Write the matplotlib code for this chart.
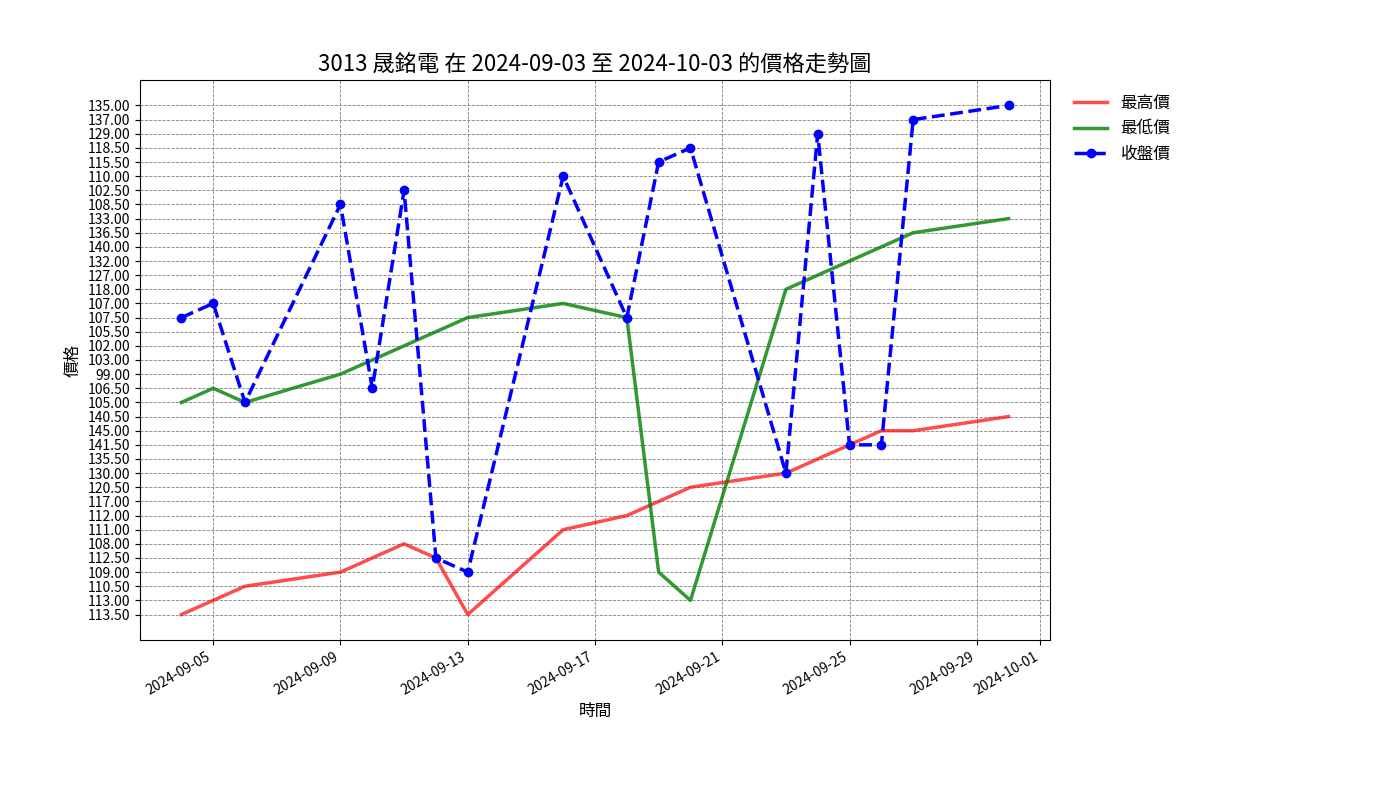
import pandas as pd
import matplotlib
matplotlib.use('Agg')
import matplotlib.pyplot as plt
import matplotlib.dates as mdates

plt.rcParams['font.family'] = ['Noto Sans CJK TC', 'DejaVu Sans']

dates = ['2024-09-04', '2024-09-05', '2024-09-06', '2024-09-09', '2024-09-10', '2024-09-11',
         '2024-09-12', '2024-09-13', '2024-09-16', '2024-09-18', '2024-09-19', '2024-09-20',
         '2024-09-23', '2024-09-24', '2024-09-25', '2024-09-26', '2024-09-27', '2024-09-30']
high = ['113.50', '113.00', '110.50', '109.00', '112.50', '108.00', '112.50', '113.50', '111.00',
        '112.00', '117.00', '120.50', '130.00', '135.50', '141.50', '145.00', '145.00', '140.50']
low = ['105.00', '106.50', '105.00', '99.00', '103.00', '102.00', '105.50', '107.50', '107.00',
       '107.50', '109.00', '113.00', '118.00', '127.00', '132.00', '140.00', '136.50', '133.00']
close = ['107.50', '107.00', '105.00', '108.50', '106.50', '102.50', '112.50', '109.00', '110.00',
         '107.50', '115.50', '118.50', '130.00', '129.00', '141.50', '141.50', '137.00', '135.00']

x = pd.to_datetime(dates)

fig, ax = plt.subplots(figsize=(14, 8), dpi=100)
fig.subplots_adjust(left=0.1, right=0.75, top=0.9, bottom=0.2)
ax.plot(x, high, color='red', alpha=0.7, linewidth=2.5, label='最高價')
ax.plot(x, low, color='green', alpha=0.8, linewidth=2.5, label='最低價')
ax.plot(x, close, color='blue', linestyle='--', marker='o', linewidth=2.5, label='收盤價')

ax.set_title('3013 晟銘電 在 2024-09-03 至 2024-10-03 的價格走勢圖', fontsize=16)
ax.set_xlabel('時間', fontsize=12)
ax.set_ylabel('價格', fontsize=12)
ax.grid(True, linestyle='--', color='gray', linewidth=0.6)
ax.xaxis.set_major_formatter(mdates.DateFormatter('%Y-%m-%d'))
ax.legend(loc='upper left', bbox_to_anchor=(1.01, 1), frameon=False, fontsize=12)
fig.autofmt_xdate()

plt.savefig('out.png')
